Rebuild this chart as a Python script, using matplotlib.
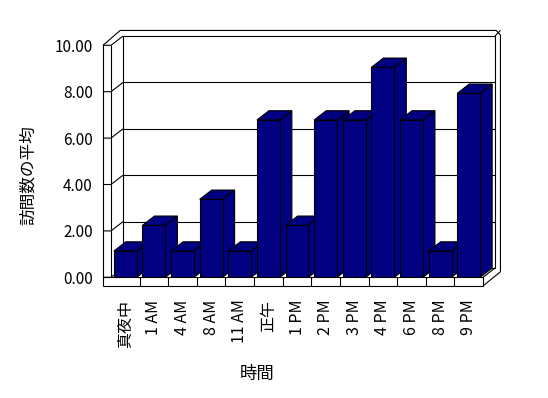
import matplotlib
matplotlib.use("Agg")
import matplotlib.pyplot as plt
from matplotlib.patches import Polygon

plt.rcParams['font.family'] = ['Noto Sans CJK JP', 'DejaVu Sans']

categories = ["真夜中", "1 AM", "4 AM", "8 AM", "11 AM", "正午", "1 PM",
              "2 PM", "3 PM", "4 PM", "6 PM", "8 PM", "9 PM"]
values = [1.13, 2.24, 1.13, 3.36, 1.13, 6.78, 2.24, 6.78, 6.78, 9.05, 6.78, 1.13, 7.93]
yticks = [0, 2, 4, 6, 8, 10]
ytick_labels = ["0.00", "2.00", "4.00", "6.00", "8.00", "10.00"]
xlabel = "時間"
ylabel = "訪問数の平均"

BAR = '#000080'
LW = 0.8
# depth offsets (data units)
DX, DY = 0.42, 0.40
WT = 0.28      # left wall front thickness
FT = 0.375     # floor thickness
BX, BY = 0.19, 0.24  # back wall slab thickness
n = len(categories)
x0, x1 = -0.5, n - 0.5
ymax = 10

fig = plt.figure(figsize=(5.48, 3.98), dpi=100)
ax = fig.add_axes([111 / 548, (398 - 277.3) / 398, 372 / 548, 232 / 398])
ax.set_xlim(x0, x1)
ax.set_ylim(0, ymax)
for s in ax.spines.values():
    s.set_visible(False)
ax.patch.set_alpha(0)


def line(xs, ys, z=1):
    ax.plot(xs, ys, color='black', lw=LW, clip_on=False, zorder=z,
            solid_capstyle='butt')


# back wall
line([x0 + DX, x1 + DX, x1 + DX, x0 + DX, x0 + DX],
     [DY, DY, ymax + DY, ymax + DY, DY])
# gridlines on back wall + left wall diagonals + front ticks
for v in yticks:
    if 0 < v < ymax:
        line([x0 + DX, x1 + DX], [v + DY, v + DY])
    line([x0 - WT, x0, x0 + DX], [v, v, v + DY])
# left wall front strip
line([x0 - WT, x0 - WT], [-FT, ymax])
line([x0, x0], [0, ymax])
# left wall top / back wall slab top
line([x0 - WT, x0 + DX - 0.1, x1 + DX + BX - 0.15, x1 + DX + BX, x1 + DX + BX],
     [ymax, ymax + DY + BY, ymax + DY + BY, ymax + DY + BY - 0.2, DY - 0.16])
line([x1 + DX, x1 + DX + BX], [ymax + DY, ymax + DY + BY])
# floor front face
line([x0 - WT, x1, x1, x0 - WT], [-FT, -FT, 0, 0], z=30)
for i in range(n - 1):
    line([i + 0.5, i + 0.5], [0, -FT], z=30)
# floor right side
line([x1, x1 + DX], [0, DY], z=30)
line([x1, x1 + DX + BX], [-FT, DY - 0.16], z=30)

# bars
bars = ax.bar(range(n), values, width=0.8, color=BAR, edgecolor='black',
              linewidth=LW)
for i, b in enumerate(bars):
    z = 5 + 2 * i
    b.set_zorder(z)
    bx0 = b.get_x()
    bx1 = bx0 + b.get_width()
    h = b.get_height()
    top = Polygon([(bx0, h), (bx1, h), (bx1 + DX, h + DY), (bx0 + DX, h + DY)],
                  closed=True, facecolor=BAR, edgecolor='black', lw=LW,
                  zorder=z - 1, clip_on=False)
    side = Polygon([(bx1, 0), (bx1 + DX, DY), (bx1 + DX, h + DY), (bx1, h)],
                   closed=True, facecolor=BAR, edgecolor='black', lw=LW,
                   zorder=z - 1, clip_on=False)
    ax.add_patch(side)
    ax.add_patch(top)

ax.set_xticks(range(n))
ax.set_xticklabels(categories, rotation=90, fontsize=11.5)
ax.tick_params(axis='x', length=0, pad=16)
ax.set_yticks(yticks)
ax.set_yticklabels(ytick_labels, fontsize=11)
ax.tick_params(axis='y', length=0, pad=13)

ax.set_xlabel(xlabel, fontsize=12.5)
ax.xaxis.label.set_va('center')
ax.xaxis.set_label_coords((256.7 - 111) / 372, (277.3 - 374) / 232)
ax.set_ylabel(ylabel, fontsize=12)
ax.yaxis.label.set_va('center')
ax.yaxis.set_label_coords((28 - 111) / 372, (277.3 - 175.5) / 232)

fig.savefig("out.png", dpi=100)
